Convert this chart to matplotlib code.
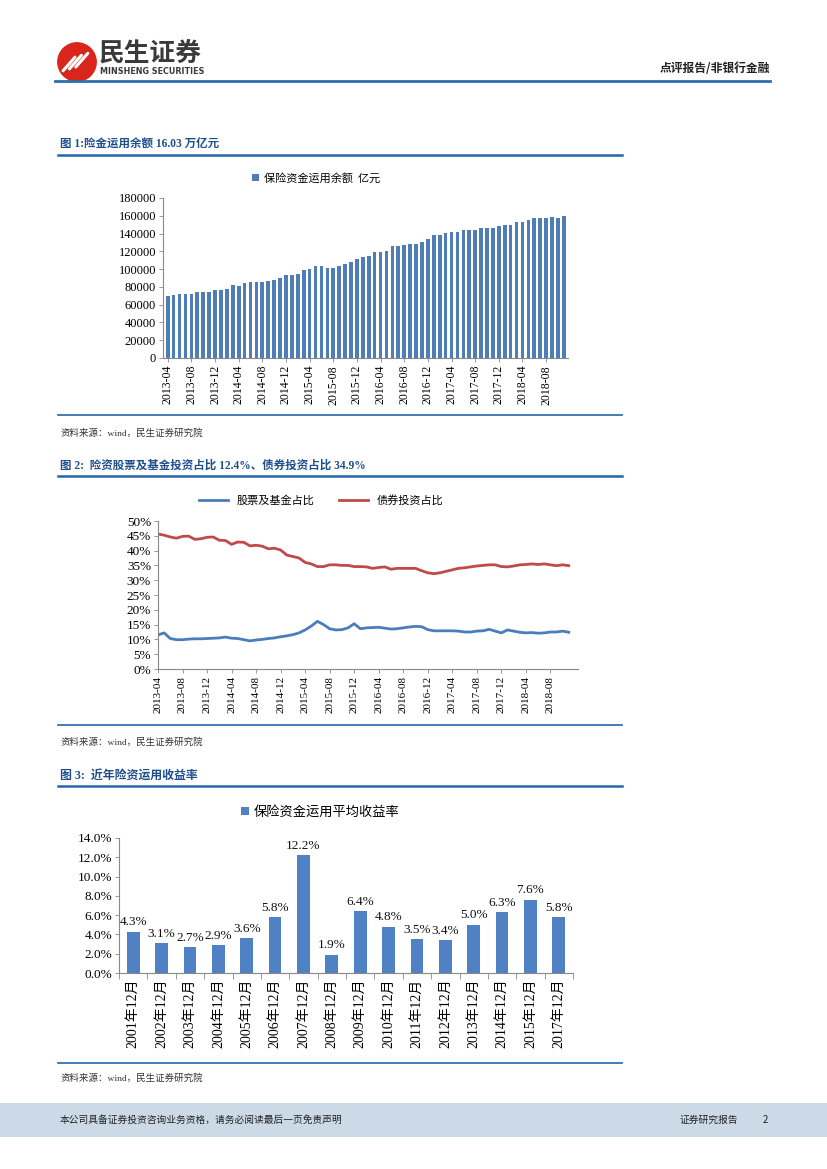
import matplotlib
matplotlib.use("Agg")
import matplotlib.pyplot as plt
from matplotlib.patches import Circle, Rectangle
from matplotlib.lines import Line2D
import numpy as np

plt.rcParams['font.family'] = ['Liberation Serif', 'Noto Sans CJK SC', 'DejaVu Sans']

# ---------------- data ----------------
months = []
for y in range(2013, 2019):
    for m in range(1, 13):
        if (y == 2013 and m < 4) or (y == 2018 and m > 11):
            continue
        months.append(f"{y}-{m:02d}")

balance = [
    70000, 71000, 72000, 72000, 72500, 74500, 74500, 74500, 76800,
    76800, 78000, 82500, 81500, 84000, 86000, 85000, 86000, 87000, 88000, 89500, 93500,
    93500, 95000, 99500, 100500, 103500, 103500, 101500, 101500, 103500, 106000, 108000, 111500,
    113800, 115000, 119500, 119500, 120500, 126000, 126000, 127500, 128500, 128500, 131000, 134000,
    138500, 138500, 141000, 142000, 142000, 144000, 144500, 144500, 146500, 146500, 146500, 149000,
    150000, 150000, 152500, 153500, 155500, 157000, 157000, 157000, 159000, 158000, 160300,
]

stock_fund = [
    11.5, 12.2, 10.3, 9.9, 9.9, 10.1, 10.2, 10.2, 10.3,
    10.4, 10.5, 10.8, 10.4, 10.3, 9.9, 9.5, 9.8, 10.0, 10.3, 10.5, 10.9,
    11.2, 11.6, 12.2, 13.2, 14.5, 16.1, 15.0, 13.6, 13.2, 13.3, 13.9, 15.3,
    13.6, 13.9, 14.0, 14.1, 13.8, 13.5, 13.6, 13.9, 14.2, 14.4, 14.3, 13.3,
    12.9, 12.9, 12.9, 12.9, 12.8, 12.5, 12.5, 12.8, 12.9, 13.4, 12.8, 12.2,
    13.2, 12.8, 12.4, 12.2, 12.3, 12.1, 12.2, 12.5, 12.5, 12.8, 12.4,
]

bond = [
    45.6, 45.2, 44.6, 44.2, 44.8, 44.9, 43.8, 44.0, 44.5,
    44.6, 43.5, 43.4, 42.1, 42.9, 42.8, 41.6, 41.8, 41.5, 40.6, 40.8, 40.2,
    38.5, 38.0, 37.5, 36.0, 35.5, 34.6, 34.6, 35.2, 35.2, 35.0, 35.0, 34.6,
    34.6, 34.5, 34.0, 34.3, 34.5, 33.7, 34.0, 34.0, 34.0, 34.0, 33.2, 32.5,
    32.2, 32.5, 33.0, 33.5, 34.0, 34.2, 34.5, 34.8, 35.0, 35.2, 35.2, 34.6,
    34.5, 34.8, 35.2, 35.3, 35.5, 35.3, 35.5, 35.2, 34.9, 35.2, 34.9,
]

years3 = ["2001年12月", "2002年12月", "2003年12月", "2004年12月", "2005年12月",
          "2006年12月", "2007年12月", "2008年12月", "2009年12月", "2010年12月",
          "2011年12月", "2012年12月", "2013年12月", "2014年12月", "2015年12月",
          "2017年12月"]
yields3 = [4.3, 3.1, 2.7, 2.9, 3.6, 5.8, 12.2, 1.9, 6.4, 4.8, 3.5, 3.4, 5.0, 6.3, 7.6, 5.8]

# ---------------- page ----------------
W, H = 827, 1169
fig = plt.figure(figsize=(W / 100, H / 100), dpi=100)
fig.patch.set_facecolor('white')

def fy(y):
    return 1 - y / H

def fx(x):
    return x / W

def hline(y, x0, x1, color, lw):
    fig.add_artist(Line2D([fx(x0), fx(x1)], [fy(y), fy(y)], color=color, lw=lw,
                          transform=fig.transFigure))

CJK = ['Noto Sans CJK SC', 'DejaVu Sans']
SERIF_CJK = ['Liberation Serif', 'Noto Sans CJK SC']
TITLE_C = '#1F4E8C'
LINE_C = '#2466A8'

# header logo
ax_logo = fig.add_axes([fx(57), fy(82), fx(40), 40 / H])
ax_logo.set_xlim(0, 1); ax_logo.set_ylim(0, 1); ax_logo.set_aspect('equal'); ax_logo.axis('off')
ax_logo.add_patch(Circle((0.5, 0.5), 0.48, color='#D9261C'))
for off in [0.0, 0.16, 0.32]:
    ax_logo.plot([0.15 + off, 0.45 + off], [0.28 + off * 0.3, 0.62 + off * 0.3], color='white', lw=2.2,
                 solid_capstyle='round')
fig.text(fx(99), fy(53), "民生证券", family=CJK, fontsize=18.5, fontweight='bold', color='#3A3A3A', va='center')
fig.text(fx(100), fy(71), "MINSHENG SECURITIES", family=['DejaVu Sans'], fontsize=5.8, fontweight='bold',
         color='#3A3A3A', va='center')
fig.text(fx(770), fy(68), "点评报告/非银行金融", family=CJK, fontsize=8.5, fontweight='bold', color='#222222',
         ha='right', va='center')
hline(81, 55, 770, '#2E6DB0', 2.0)

# ---------------- Figure 1 ----------------
fig.text(fx(60), fy(145), "图 1:险金运用余额 16.03 万亿元", family=SERIF_CJK, fontsize=8.3, fontweight='bold',
         color=TITLE_C, va='center')
hline(155, 58, 622, LINE_C, 1.8)

ax1 = fig.add_axes([fx(163), fy(358), fx(568 - 163), (358 - 198) / H])
x1 = np.arange(len(months))
ax1.bar(x1, balance, width=0.62, color='#4F7DB8', label='保险资金运用余额  亿元')
ax1.set_xlim(-0.8, len(months) - 0.3)
ax1.set_ylim(0, 180000)
ax1.set_yticks(np.arange(0, 180001, 20000))
ax1.set_yticklabels([str(v) for v in range(0, 180001, 20000)], fontsize=9)
tick_idx = list(range(0, len(months), 4))
ax1.set_xticks(tick_idx)
ax1.set_xticklabels([months[i] for i in tick_idx], rotation=90, fontsize=8.5)
for s in ['top', 'right']:
    ax1.spines[s].set_visible(False)
for s in ['left', 'bottom']:
    ax1.spines[s].set_color('#888888')
    ax1.spines[s].set_linewidth(0.8)
ax1.tick_params(axis='both', length=3, width=0.6, color='#888888', pad=2)
ax1.legend(loc='center', bbox_to_anchor=(0.378, 1.125), frameon=False,
           handlelength=0.6, handleheight=0.6, handletextpad=0.4, prop={'family': CJK, 'size': 8})

hline(415, 58, 622, LINE_C, 1.2)
fig.text(fx(60), fy(433), "资料来源：wind，民生证券研究院", family=SERIF_CJK, fontsize=6.8, color='#333333',
         va='center')

# ---------------- Figure 2 ----------------
fig.text(fx(60), fy(466), "图 2:  险资股票及基金投资占比 12.4%、债券投资占比 34.9%", family=SERIF_CJK, fontsize=8.3,
         fontweight='bold', color=TITLE_C, va='center')
hline(476, 58, 622, LINE_C, 1.8)

ax2 = fig.add_axes([fx(158), fy(669), fx(578 - 158), (669 - 521) / H])
x2 = np.arange(len(months))
ax2.plot(x2, stock_fund, color='#4A7EBB', lw=2.0, label='股票及基金占比')
ax2.plot(x2, bond, color='#BE4B48', lw=2.0, label='债券投资占比')
ax2.set_xlim(0, len(months) + 0.5)
ax2.set_ylim(0, 50)
ax2.set_yticks(np.arange(0, 51, 5))
ax2.set_yticklabels([f"{v}%" for v in range(0, 51, 5)], fontsize=9.5)
ax2.set_xticks(tick_idx)
ax2.set_xticklabels([months[i] for i in tick_idx], rotation=90, fontsize=8)
for s in ['top', 'right']:
    ax2.spines[s].set_visible(False)
for s in ['left', 'bottom']:
    ax2.spines[s].set_color('#888888')
    ax2.spines[s].set_linewidth(0.8)
ax2.tick_params(axis='both', length=3, width=0.6, color='#888888', pad=2)
ax2.legend(loc='center', bbox_to_anchor=(0.388, 1.14), ncol=2, frameon=False,
           handlelength=2.6, columnspacing=2.2, prop={'family': CJK, 'size': 8})

hline(725, 58, 622, LINE_C, 1.2)
fig.text(fx(60), fy(742), "资料来源：wind，民生证券研究院", family=SERIF_CJK, fontsize=6.8, color='#333333',
         va='center')

# ---------------- Figure 3 ----------------
fig.text(fx(60), fy(776), "图 3:  近年险资运用收益率", family=SERIF_CJK, fontsize=8.6, fontweight='bold',
         color=TITLE_C, va='center')
hline(786, 58, 622, LINE_C, 1.8)

ax3 = fig.add_axes([fx(119), fy(973), fx(573 - 119), (973 - 838) / H])
x3 = np.arange(len(years3))
ax3.bar(x3, yields3, width=0.45, color='#4F81C4', label='保险资金运用平均收益率')
for xi, v in zip(x3, yields3):
    ax3.text(xi, v + 0.35, f"{v:.1f}%", ha='center', va='bottom', fontsize=9.5,
             family=['Liberation Serif'], color='#111111')
ax3.set_xlim(-0.5, len(years3) - 0.5)
ax3.set_ylim(0, 14)
ax3.set_yticks(np.arange(0, 14.01, 2))
ax3.set_yticklabels([f"{v:.1f}%" for v in np.arange(0, 14.01, 2)], fontsize=9.5)
ax3.set_xticks(x3)
ax3.set_xticklabels(years3, rotation=90, fontsize=10, family=SERIF_CJK)
ax3.set_xticks(np.arange(-0.5, len(years3), 1), minor=True)
for s in ['top', 'right']:
    ax3.spines[s].set_visible(False)
for s in ['left', 'bottom']:
    ax3.spines[s].set_color('#888888')
    ax3.spines[s].set_linewidth(0.8)
ax3.tick_params(axis='x', which='major', length=0, pad=4)
ax3.tick_params(axis='x', which='minor', length=4, width=0.6, color='#888888')
ax3.tick_params(axis='y', length=3, width=0.6, color='#888888', pad=2)
ax3.legend(loc='center', bbox_to_anchor=(0.443, 1.19), frameon=False,
           handlelength=0.6, handleheight=0.6, handletextpad=0.3, prop={'family': CJK, 'size': 9.5})

hline(1063, 58, 622, LINE_C, 1.2)
fig.text(fx(60), fy(1078), "资料来源：wind，民生证券研究院", family=SERIF_CJK, fontsize=6.8, color='#333333',
         va='center')

# ---------------- footer ----------------
fig.add_artist(Rectangle((0, fy(1137)), 1, (1137 - 1103) / H, transform=fig.transFigure,
                         facecolor='#CCDAE8', edgecolor='none'))
fig.text(fx(60), fy(1120), "本公司具备证券投资咨询业务资格，请务必阅读最后一页免责声明", family=CJK, fontsize=7,
         color='#222222', va='center')
fig.text(fx(680), fy(1120), "证券研究报告", family=CJK, fontsize=7, color='#222222', va='center')
fig.text(fx(763), fy(1120), "2", family=CJK, fontsize=7, color='#222222', va='center')

fig.savefig("out.png", dpi=100)
